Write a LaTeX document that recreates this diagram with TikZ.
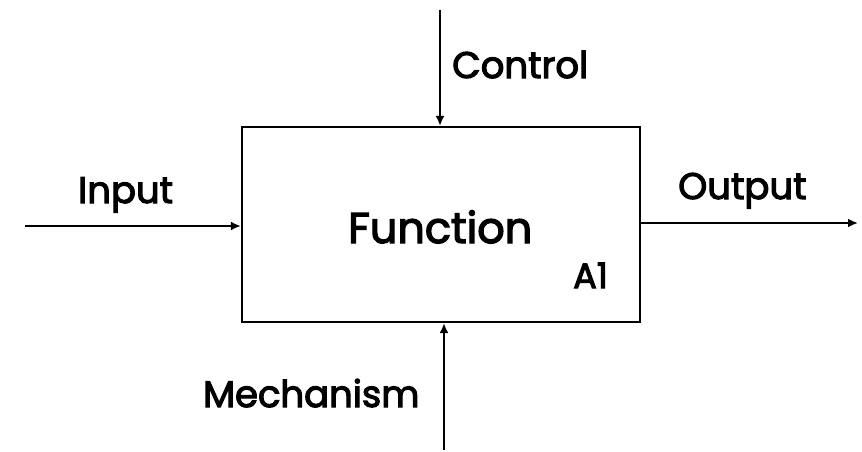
\documentclass[tikz,border=0pt]{standalone}
\usepackage{fontspec}
\setmainfont{Poppins}
\newfontfamily\lblfont[FakeBold=3]{Poppins}
\usetikzlibrary{arrows.meta}
\begin{document}
\begin{tikzpicture}[x=1pt,y=-1pt,
  flow/.style={line width=2.2pt,-{Latex[length=10pt,width=9pt]}},
  lbl/.style={inner sep=0pt,anchor=base west,font=\lblfont\fontsize{37}{37}\selectfont},
  boxst/.style={draw,line width=2.2pt,minimum width=398pt,minimum height=195pt,inner sep=0pt}]
\useasboundingbox (0,0) rectangle (862,452);
\node[boxst] (box) at (441,224.5) {};
\node[inner sep=0pt,anchor=base west,font=\lblfont\fontsize{43}{43}\selectfont] (fn) at (348,243) {Function};
\node[lbl,font=\lblfont\fontsize{35}{35}\selectfont] (a1) at (573,288) {A1};
\coordinate (ctop) at (440,10);
\coordinate (mbot) at (444,450);
\coordinate (iin) at (25,226);
\coordinate (oout) at (858,223);
\draw[flow] (ctop) -- (ctop |- box.north);
\draw[flow] (mbot) -- (mbot |- box.south);
\draw[flow] (iin) -- (iin -| box.west);
\draw[flow] (oout -| box.east) -- (oout);
\node[lbl] (ctl) at (452,78) {Control};
\node[lbl] (inp) at (78,203) {Input};
\node[lbl] (outp) at (678,199) {Output};
\node[lbl] (mech) at (203,407) {Mechanism};
\end{tikzpicture}
\end{document}
